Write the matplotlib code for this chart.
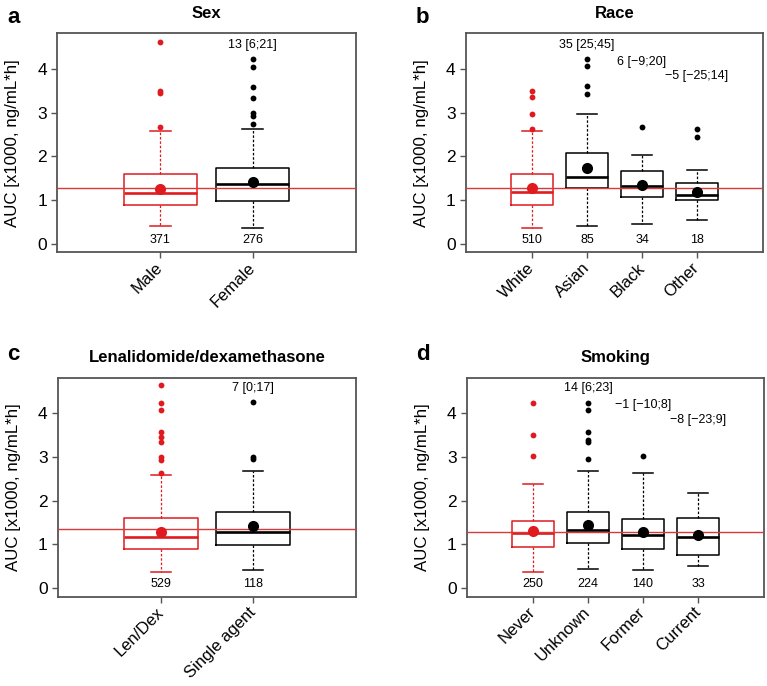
import matplotlib
matplotlib.use("Agg")
import matplotlib.pyplot as plt
from matplotlib.transforms import ScaledTranslation

plt.rcParams['font.family'] = ['Liberation Sans', 'DejaVu Sans']

# each box row: whisker low, Q1, median, Q3, whisker high, mean  (AUC x1000)
sex_labels = ["Male", "Female"]
sex_n = [371, 276]
sex_box = [[0.40, 0.885, 1.16, 1.59, 2.58, 1.26],
           [0.36, 0.98, 1.37, 1.73, 2.63, 1.42]]
sex_out = [[2.67, 3.45, 3.49, 4.62],
           [2.75, 2.93, 2.99, 3.34, 3.58, 4.04, 4.24]]
sex_diff = [None, "13 [6;21]"]
sex_diff_y = [None, 4.55]
sex_ref = 1.28

race_labels = ["White", "Asian", "Black", "Other"]
race_n = [510, 85, 34, 18]
race_box = [[0.36, 0.885, 1.18, 1.59, 2.58, 1.28],
            [0.40, 1.28, 1.53, 2.07, 2.97, 1.74],
            [0.45, 1.07, 1.32, 1.67, 2.03, 1.35],
            [0.55, 0.99, 1.11, 1.38, 1.69, 1.18]]
race_out = [[2.62, 2.97, 3.35, 3.50],
            [3.42, 3.61, 4.06, 4.23],
            [2.67],
            [2.44, 2.62]]
race_diff = [None, "35 [25;45]", "6 [\u22129;20]", "\u22125 [\u221225;14]"]
race_diff_y = [None, 4.56, 4.17, 3.85]
race_ref = 1.28

len_labels = ["Len/Dex", "Single agent"]
len_n = [529, 118]
len_box = [[0.37, 0.89, 1.17, 1.60, 2.58, 1.27],
           [0.41, 0.99, 1.28, 1.73, 2.68, 1.41]]
len_out = [[2.62, 2.92, 2.99, 3.35, 3.46, 3.56, 4.07, 4.24, 4.64],
           [2.95, 3.00, 4.25]]
len_diff = [None, "7 [0;17]"]
len_diff_y = [None, 4.57]
len_ref = 1.34

smk_labels = ["Never", "Unknown", "Former", "Current"]
smk_n = [250, 224, 140, 33]
smk_box = [[0.37, 0.94, 1.25, 1.54, 2.39, 1.29],
           [0.42, 1.02, 1.32, 1.73, 2.68, 1.45],
           [0.41, 0.88, 1.22, 1.58, 2.62, 1.27],
           [0.51, 0.75, 1.16, 1.59, 2.18, 1.20]]
smk_out = [[3.01, 3.51, 4.24],
           [2.95, 3.34, 3.38, 3.57, 4.07, 4.24],
           [3.02],
           []]
smk_diff = [None, "14 [6;23]", "\u22121 [\u221210;8]", "\u22128 [\u221223;9]"]
smk_diff_y = [None, 4.57, 4.2, 3.84]
smk_ref = 1.28

RED = '#e01b1f'
GRAY = '#555555'


def draw_panel(ax, title, labels, n, box, out, diff, diff_y, ref):
    k = len(labels)
    pos = list(range(1, k + 1))
    width = 0.8 if k == 2 else 0.76
    cap = 0.22 if k == 2 else 0.35
    stats = []
    for i in range(k):
        lo, q1, med, q3, hi, mean = box[i]
        stats.append(dict(whislo=lo, q1=q1, med=med, q3=q3, whishi=hi,
                          mean=mean, fliers=out[i]))
    # reference group in red, the rest in black
    for idx, col in [([0], RED), (list(range(1, k)), 'black')]:
        ax.bxp([stats[i] for i in idx], positions=[pos[i] for i in idx],
               widths=width, capwidths=cap, showmeans=True, manage_ticks=False,
               boxprops=dict(color=col, lw=1.1),
               whiskerprops=dict(color=col, lw=0.9, ls=(0, (2, 1.5))),
               capprops=dict(color=col, lw=1.1),
               medianprops=dict(color=col, lw=1.9),
               flierprops=dict(marker='o', mfc=col, mec='none', ms=4.2),
               meanprops=dict(marker='o', mfc=col, mec='none', ms=8, zorder=4))
    ax.axhline(ref, color='#d63a3a', lw=1, zorder=3)

    for i in range(k):
        ax.text(pos[i], 0.09, str(n[i]), ha='center', va='center', fontsize=9)
        if diff[i]:
            ax.text(pos[i], diff_y[i], diff[i], ha='center', va='center', fontsize=9)

    ax.set_xlim(-0.04 * (k + 1), 1.04 * (k + 1))
    ax.set_ylim(-0.2, 4.82)
    ax.set_yticks([0, 1, 2, 3, 4])
    ax.set_xticks(pos)
    ax.set_xticklabels(labels, rotation=45, ha='right', va='center',
                       rotation_mode='anchor', fontsize=12)
    shift = ScaledTranslation(4 / 100, 0, ax.figure.dpi_scale_trans)
    for lbl in ax.get_xticklabels():
        lbl.set_transform(lbl.get_transform() + shift)
    ax.tick_params(direction='out', length=4.5, width=1, color=GRAY, pad=3)
    ax.tick_params(axis='y', labelsize=12.5)
    ax.tick_params(axis='x', pad=5)
    for s in ax.spines.values():
        s.set_color(GRAY)
        s.set_linewidth(1.3)
    ax.set_ylabel("AUC [x1000, ng/mL*h]", fontsize=12.2)
    ax.yaxis.set_label_coords(-0.125, 0.5)
    ax.set_title(title, fontsize=12, fontweight='bold', pad=11)


W, H = 767, 686
fig = plt.figure(figsize=(W / 100, H / 100), dpi=100)

ax_a = fig.add_axes([57.3 / W, 1 - 252.3 / H, 298.4 / W, 219 / H])
ax_b = fig.add_axes([466 / W, 1 - 252.3 / H, 297 / W, 219 / H])
ax_c = fig.add_axes([58 / W, 1 - 596.5 / H, 298.4 / W, 219 / H])
ax_d = fig.add_axes([467 / W, 1 - 596.5 / H, 297 / W, 219 / H])

draw_panel(ax_a, "Sex", sex_labels, sex_n, sex_box, sex_out, sex_diff, sex_diff_y, sex_ref)
draw_panel(ax_b, "Race", race_labels, race_n, race_box, race_out, race_diff, race_diff_y, race_ref)
draw_panel(ax_c, "Lenalidomide/dexamethasone", len_labels, len_n, len_box, len_out,
           len_diff, len_diff_y, len_ref)
draw_panel(ax_d, "Smoking", smk_labels, smk_n, smk_box, smk_out, smk_diff, smk_diff_y, smk_ref)

for letter, x, y in [('a', 7, 23), ('b', 416, 23), ('c', 7, 360), ('d', 416, 360)]:
    fig.text(x / W, 1 - y / H, letter, fontsize=16, fontweight='bold', va='baseline')

fig.savefig("out.png", dpi=100)
